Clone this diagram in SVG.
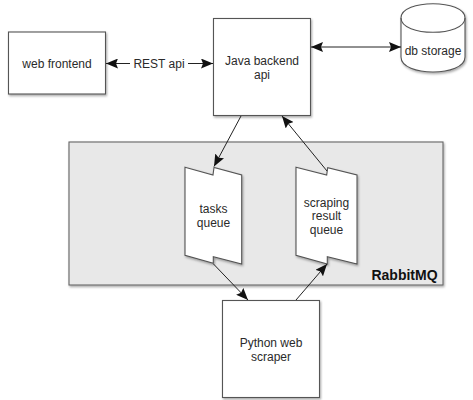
<svg xmlns="http://www.w3.org/2000/svg" width="473" height="400" viewBox="0 0 473 400">
<style>
text{font-family:"Liberation Sans",Arial,sans-serif;font-size:12px;fill:#2a2a2a;text-anchor:middle}
.s{fill:#fff;stroke:#555;stroke-width:1.1;filter:url(#sh)}
.c{fill:none;stroke:#222;stroke-width:1}
</style>
<defs>
<filter id="sh" x="-10%" y="-10%" width="125%" height="125%"><feDropShadow dx="1" dy="1.5" stdDeviation="0.8" flood-color="#000" flood-opacity="0.35"/></filter>
<marker id="a" viewBox="0 0 12 10" refX="12" refY="5" markerWidth="12" markerHeight="10" markerUnits="userSpaceOnUse" orient="auto-start-reverse"><path d="M0 0L12 5L0 10L2 5Z" fill="#111"/></marker>
</defs>
<rect width="473" height="400" fill="#fff"/>
<g id="rabbitmq">
<rect x="69" y="142" width="374" height="143" fill="#e8e8e8" stroke="#666" stroke-width="1.1" filter="url(#sh)"/>
<text x="404.5" y="280" style="font-weight:bold;font-size:14px;fill:#111">RabbitMQ</text>
</g>
<g id="web-frontend">
<rect class="s" x="8.5" y="32" width="97" height="62"/>
<text x="57" y="68">web frontend</text>
</g>
<g id="java-backend">
<rect class="s" x="213.5" y="18.5" width="97" height="97"/>
<text x="262" y="65">Java backend</text>
<text x="262" y="79">api</text>
</g>
<g id="db-storage">
<path class="s" d="M401 18C401 -1 465 -1 465 18V57C465 77 401 77 401 57Z"/>
<path d="M401 18C401 37 465 37 465 18" fill="none" stroke="#555" stroke-width="1.1"/>
<text x="433" y="55">db storage</text>
</g>
<g id="tasks-queue">
<path class="s" d="M185 167.3L213 175L214 167.5L241.7 175V264L213.3 256.7V263.3L185 255.3Z"/>
<text x="213.5" y="213">tasks</text>
<text x="213.5" y="227">queue</text>
</g>
<g id="result-queue">
<path class="s" d="M296 167.3L326.7 175L327.7 167.7L357 175V264L327.3 256.7V264L296 255.3Z"/>
<text x="326.5" y="207">scraping</text>
<text x="326.5" y="220">result</text>
<text x="326.5" y="234">queue</text>
</g>
<g id="python-scraper">
<rect class="s" x="222.5" y="300.5" width="97" height="97"/>
<text x="271" y="347">Python web</text>
<text x="271" y="361">scraper</text>
</g>
<g id="connectors">
<line class="c" x1="130" y1="63.5" x2="106" y2="63.5" marker-end="url(#a)"/>
<line class="c" x1="188" y1="63.5" x2="213" y2="63.5" marker-end="url(#a)"/>
<line class="c" x1="311" y1="47" x2="401" y2="47" marker-start="url(#a)" marker-end="url(#a)"/>
<line class="c" x1="241" y1="116" x2="214" y2="166.5" marker-end="url(#a)"/>
<line class="c" x1="327" y1="171" x2="282" y2="116" marker-end="url(#a)"/>
<line class="c" x1="213.5" y1="264" x2="248" y2="300" marker-end="url(#a)"/>
<line class="c" x1="296" y1="300" x2="327" y2="264" marker-end="url(#a)"/>
</g>
<text x="159" y="68">REST api</text>
</svg>
